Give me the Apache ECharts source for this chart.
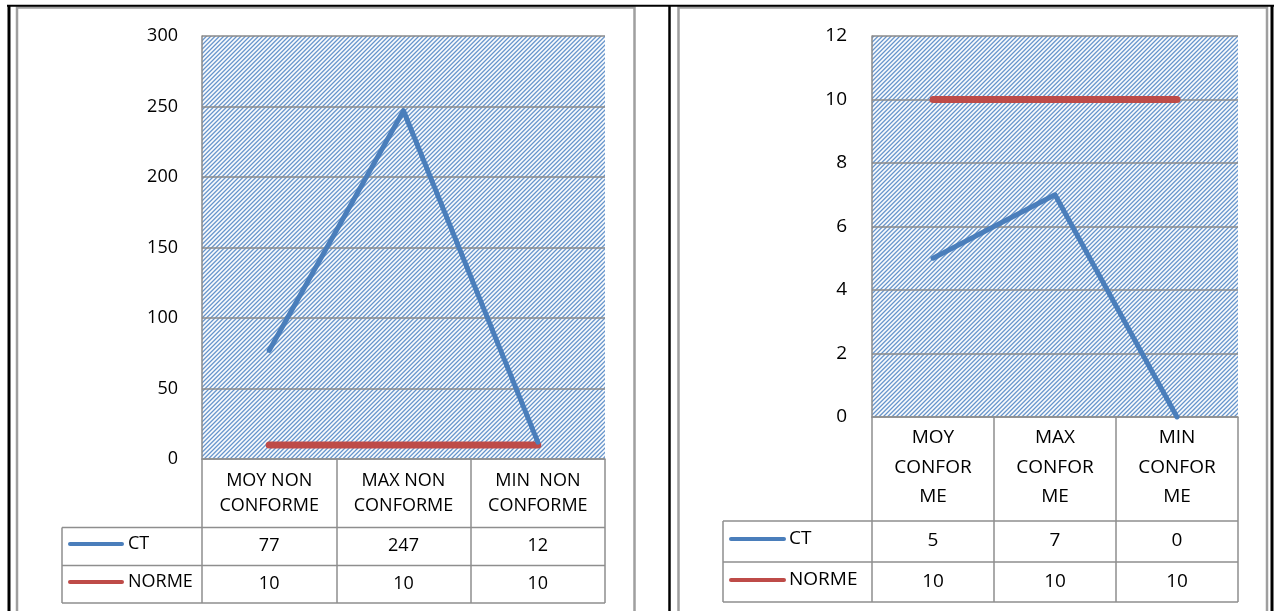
<!DOCTYPE html>
<html>
<head>
<meta charset="utf-8">
<script src="https://cdn.jsdelivr.net/npm/echarts@6/dist/echarts.min.js"></script>
<style>
  html, body { margin: 0; padding: 0; background: #ffffff; }
  #chart { width: 1281px; height: 611px; }
</style>
</head>
<body>
<div id="chart"></div>
<script>
// Non-conforming samples (left panel)
const ncCategories = ['MOY NON\nCONFORME', 'MAX NON\nCONFORME', 'MIN  NON\nCONFORME'];
const ncCT = [77, 247, 12];
const ncNorme = [10, 10, 10];
const ncTicks = { min: 0, max: 300, interval: 50 };

// Conforming samples (right panel)
const cCategories = ['MOY\nCONFOR\nME', 'MAX\nCONFOR\nME', 'MIN\nCONFOR\nME'];
const cCT = [5, 7, 0];
const cNorme = [10, 10, 10];
const cTicks = { min: 0, max: 12, interval: 2 };

const seriesNames = ['CT', 'NORME'];
const seriesColors = ['#4A7EBB', '#BE4B48'];

const FONT = 'Open Sans';
const GRID_LINE = '#8a8a8a';
const TABLE_LINE = '#8e8e8e';

// soft "/" diagonal hatch used as plot-area fill; 13 px tile holding 3 stripe periods
function hatchPattern() {
  const N = 13, period = 13 / 3;
  const blue = [80, 133, 196];
  const c = document.createElement('canvas');
  c.width = N; c.height = N;
  const g = c.getContext('2d');
  const img = g.createImageData(N, N);
  for (let y = 0; y < N; y++) {
    for (let x = 0; x < N; x++) {
      // average a few sub-samples of a narrow cosine stripe profile
      let w = 0;
      for (let sy = 0; sy < 3; sy++) for (let sx = 0; sx < 3; sx++) {
        const t = ((x + (sx + 0.5) / 3) + (y + (sy + 0.5) / 3)) / period;
        w += Math.pow(0.5 + 0.5 * Math.cos(2 * Math.PI * t), 1.8);
      }
      w /= 9;
      const k = (y * N + x) * 4;
      for (let ch = 0; ch < 3; ch++) img.data[k + ch] = Math.round(255 + (blue[ch] - 255) * w);
      img.data[k + 3] = 255;
    }
  }
  g.putImageData(img, 0, 0);
  return { image: c, repeat: 'repeat' };
}

// panel layout (plot rectangle + table geometry)
const panels = [
  { grid: { left: 202, top: 36, width: 403, height: 423 }, fontSize: 18, lineHeight: 25, labelMargin: 9,
    tableLeft: 62, headerBottom: 527.5, rowSep: 565.5, tableBottom: 603,
    legendLine: [70, 122], legendText: 128, rowY: [546, 584], yLabelMargin: 24,
    cats: ncCategories, ct: ncCT, norme: ncNorme, ticks: ncTicks },
  { grid: { left: 872, top: 36, width: 366, height: 381 }, fontSize: 19, lineHeight: 29.5, labelMargin: 6,
    tableLeft: 723, headerBottom: 521, rowSep: 562, tableBottom: 602,
    legendLine: [731, 784], legendText: 789, rowY: [541, 582], yLabelMargin: 25,
    cats: cCategories, ct: cCT, norme: cNorme, ticks: cTicks }
];

const chart = echarts.init(document.getElementById('chart'), null, { renderer: 'canvas' });
const pattern = hatchPattern();

const option = {
  backgroundColor: '#ffffff',
  animation: false,
  grid: panels.map(p => Object.assign({
    show: true, backgroundColor: pattern, borderWidth: 0, containLabel: false, outerBoundsMode: 'none'
  }, p.grid)),
  xAxis: panels.map((p, i) => ({
    type: 'category', gridIndex: i, data: p.cats, boundaryGap: true,
    axisLine: { show: true, lineStyle: { color: TABLE_LINE, width: 1.5 } },
    axisTick: { show: true, interval: 0, length: p.tableBottom - (p.grid.top + p.grid.height),
      lineStyle: { color: TABLE_LINE, width: 1.5 } },
    axisLabel: { interval: 0, margin: p.labelMargin, color: '#000', fontFamily: FONT,
      fontSize: p.fontSize, lineHeight: p.lineHeight, align: 'center' },
    splitLine: { show: false }
  })),
  yAxis: panels.map((p, i) => ({
    type: 'value', gridIndex: i, min: p.ticks.min, max: p.ticks.max, interval: p.ticks.interval,
    axisLine: { show: true, lineStyle: { color: GRID_LINE, width: 1.5 } },
    axisTick: { show: false },
    axisLabel: { margin: p.yLabelMargin, color: '#000', fontFamily: FONT, fontSize: p.fontSize },
    splitLine: { show: true, lineStyle: { color: GRID_LINE, width: 1.5 } }
  })),
  series: []
};

panels.forEach((p, i) => {
  [p.ct, p.norme].forEach((vals, k) => {
    option.series.push({
      name: seriesNames[k], type: 'line', xAxisIndex: i, yAxisIndex: i, data: vals,
      showSymbol: false, symbol: 'none', clip: false,
      lineStyle: { color: seriesColors[k], width: k === 0 ? 5 : 7, cap: 'round', join: 'round' },
      z: k === 0 ? 3 : 2
    });
  });
});

chart.setOption(option);

// frame, data table and legend keys
const g = [];
// page frame
g.push({ type: 'rect', shape: { x: 17, y: 7.5, width: 617.5, height: 620 }, style: { fill: null, stroke: '#9f9f9f', lineWidth: 2.5 }, z: 1 });
g.push({ type: 'rect', shape: { x: 678.5, y: 7.5, width: 588.5, height: 620 }, style: { fill: null, stroke: '#9f9f9f', lineWidth: 2.5 }, z: 1 });
g.push({ type: 'line', shape: { x1: 7, y1: 5.8, x2: 1274, y2: 5.8 }, style: { stroke: '#000', lineWidth: 2 }, z: 2 });
g.push({ type: 'line', shape: { x1: 9, y1: 5, x2: 9, y2: 620 }, style: { stroke: '#000', lineWidth: 3 }, z: 2 });
g.push({ type: 'line', shape: { x1: 669.5, y1: 5, x2: 669.5, y2: 620 }, style: { stroke: '#000', lineWidth: 2.5 }, z: 2 });
g.push({ type: 'line', shape: { x1: 1272, y1: 5, x2: 1272, y2: 620 }, style: { stroke: '#000', lineWidth: 3 }, z: 2 });

panels.forEach((p, i) => {
  const right = p.grid.left + p.grid.width;
  const hl = (y) => ({ type: 'line', shape: { x1: p.tableLeft, y1: y, x2: right, y2: y },
    style: { stroke: TABLE_LINE, lineWidth: 1.5 }, z: 5 });
  g.push(hl(p.headerBottom), hl(p.rowSep), hl(p.tableBottom));
  g.push({ type: 'line', shape: { x1: p.tableLeft, y1: p.headerBottom, x2: p.tableLeft, y2: p.tableBottom },
    style: { stroke: TABLE_LINE, lineWidth: 1.5 }, z: 5 });

  const rows = [p.ct, p.norme];
  rows.forEach((vals, k) => {
    const y = p.rowY[k];
    // legend key
    g.push({ type: 'line', shape: { x1: p.legendLine[0], y1: y - 2, x2: p.legendLine[1], y2: y - 2 },
      style: { stroke: seriesColors[k], lineWidth: 4, lineCap: 'round' }, z: 6 });
    g.push({ type: 'text', x: p.legendText, y: y - 2, style: { text: seriesNames[k], fill: '#000',
      font: p.fontSize + 'px "' + FONT + '"', textAlign: 'left', textVerticalAlign: 'middle' }, z: 6 });
    // values under each category column
    vals.forEach((v, j) => {
      const cx = chart.convertToPixel({ xAxisIndex: i }, j);
      g.push({ type: 'text', x: cx, y: y, style: { text: String(v), fill: '#000',
        font: p.fontSize + 'px "' + FONT + '"', textAlign: 'center', textVerticalAlign: 'middle' }, z: 6 });
    });
  });
});

chart.setOption({ graphic: { elements: g } });
</script>
</body>
</html>
